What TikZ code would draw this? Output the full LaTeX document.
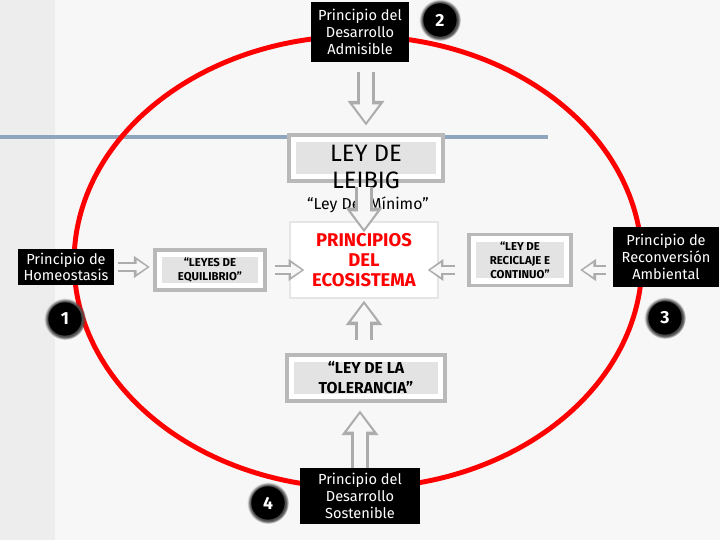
\documentclass[tikz,border=0pt]{standalone}
\usepackage{fontspec}
\setmainfont{Fira Sans}
\usetikzlibrary{calc}
\usetikzlibrary{arrows.meta}
\usetikzlibrary{shadows}
\definecolor{lineblue}{RGB}{143,165,189}
\tikzset{
  blackbox/.style={fill=black, text=white, align=center, inner sep=1pt,
    font=\fontsize{8.3}{9.5}\selectfont},
  lawbox/.style={draw=white, line width=3pt, fill=gray!22, align=center, inner sep=0pt,
    preaction={draw=gray!55, line width=7pt}},
  badge/.style={circle, fill=black, text=white, minimum size=19pt, inner sep=0pt,
    font=\bfseries\fontsize{10}{10}\selectfont, circular glow={fill=black!70}},
  fatarrow/.style={gray!6, line width=6.5pt, -{Triangle[length=10pt,width=14pt]}, shorten >=2pt,
    preaction={draw=gray!65, line width=10pt, -{Triangle[length=14pt,width=20pt]}, shorten >=0pt}},
  slimarrow/.style={gray!6, line width=3pt, -{Triangle[length=6pt,width=7.5pt]}, shorten >=1.5pt,
    preaction={draw=gray!65, line width=5.5pt, -{Triangle[length=9pt,width=12pt]}, shorten >=0pt}}
}
\begin{document}
\begin{tikzpicture}[x=0.02cm, y=-0.02cm]
    \useasboundingbox (0,0) rectangle (720,540);
    \fill[gray!6] (0,0) rectangle (720,540);
    \fill[gray!14] (0,0) rectangle (55,540);
    \draw[lineblue, line width=2.8pt] (0,137) -- (548,137);
    \draw[red, line width=2.8pt] (358,262) ellipse [x radius=5.68cm, y radius=4.52cm];
    % principios
    \node (admis) at (360,32) [blackbox, minimum width=56pt, minimum height=34pt] {Principio del\\Desarrollo\\Admisible};
    \node (homeo) at (66,267) [blackbox, minimum width=55pt, minimum height=20pt] {Principio de\\Homeostasis};
    \node (reco) at (666,257) [blackbox, minimum width=60.7pt, minimum height=34pt] {Principio de\\Reconversión\\Ambiental};
    \node (sost) at (360,496) [blackbox, minimum width=68pt, minimum height=32pt] {Principio del\\Desarrollo\\Sostenible};
    % leyes
    \node (leibigbox) at (366,158) [lawbox, minimum width=82.6pt, minimum height=21.4pt] {};
    \node (leibig) at (366,167) [align=center, font=\fontsize{13.5}{15.3}\selectfont] {LEY DE\\LEIBIG};
    \node (lmin) at (368,205) [font=\fontsize{9}{10}\selectfont] {“Ley Del Mínimo”};
    \node (leyes) at (210,270) [lawbox, minimum width=57.6pt, minimum height=18pt,
        font=\bfseries\fontsize{6.5}{8}\selectfont] {“LEYES DE\\EQUILIBRIO”};
    \node (recic) at (520,260) [lawbox, minimum width=53pt, minimum height=24pt,
        font=\bfseries\fontsize{6.5}{8}\selectfont] {“LEY DE\\RECICLAJE E\\CONTINUO”};
    \node (toler) at (366,378) [lawbox, minimum width=85pt, minimum height=21.4pt,
        font=\bfseries\fontsize{9}{11.3}\selectfont] {“LEY DE LA\\TOLERANCIA”};
    \node (princ) at (364,260) [draw=gray!20, line width=1pt, fill=white, align=center,
        minimum width=84pt, minimum height=43pt, text=red,
        font=\bfseries\fontsize{10.5}{11.3}\selectfont] {PRINCIPIOS\\DEL\\ECOSISTEMA};
    % flechas
    \draw[fatarrow] ($(admis.south -| leibigbox.north)+(0,10)$) -- ($(leibigbox.north)+(0,-11)$);
    \draw[fatarrow] ($(princ.north |- leibigbox.south)+(0,8)$) -- ($(princ.north)+(0,11)$);
    \draw[fatarrow] ($(toler.north -| princ.south)+(0,-17)$) -- ($(princ.south)+(0,2)$);
    \draw[fatarrow] (sost.north) -- ($(toler.south -| sost.north)+(0,11)$);
    \draw[slimarrow] ($(leyes.east)+(12,0)$) -- ($(princ.west |- leyes.east)+(15,0)$);
    \draw[slimarrow] ($(recic.west |- leyes.east)+(-16,0)$) -- ($(princ.east |- leyes.east)+(-11,0)$);
    \draw[slimarrow] ($(homeo.east)+(3,0)$) -- ($(leyes.west |- homeo.east)+(-7,0)$);
    \draw[slimarrow] ($(reco.west |- leyes.east)+(-6,0)$) -- ($(recic.east |- leyes.east)+(11,0)$);
    % numeros
    \node (b1) at (65,319) [badge] {1};
    \node (b2) at (440,20) [badge] {2};
    \node (b3) at (665,318) [badge] {3};
    \node (b4) at (268,503) [badge] {4};
\end{tikzpicture}
\end{document}
